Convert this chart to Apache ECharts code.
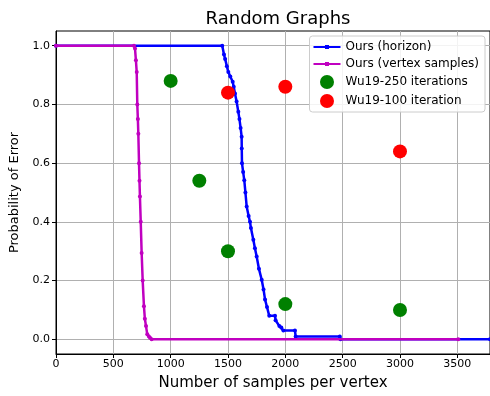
<!DOCTYPE html>
<html>
<head>
<meta charset="utf-8">
<script src="https://cdn.jsdelivr.net/npm/echarts@6/dist/echarts.min.js"></script>
<style>
  html, body { margin: 0; padding: 0; background: #fff; }
  #chart { width: 490px; height: 396px; }
</style>
</head>
<body>
<div id="chart"></div>
<script>
// x = samples per vertex, y = probability of error
const horizonCurve = [
  [0, 1], [1450, 1], [1465, 0.97], [1475, 0.955], [1490, 0.93], [1503, 0.91],
  [1520, 0.895], [1541, 0.877], [1550, 0.86], [1561, 0.837], [1575, 0.81],
  [1590, 0.775], [1600, 0.75], [1610, 0.72], [1619, 0.69], [1620, 0.65],
  [1622, 0.6], [1632, 0.57], [1642, 0.542], [1652, 0.5], [1663, 0.452],
  [1680, 0.42], [1692, 0.4], [1700, 0.379], [1721, 0.339], [1735, 0.31],
  [1750, 0.282], [1770, 0.24], [1794, 0.203], [1810, 0.17], [1823, 0.136],
  [1840, 0.11], [1860, 0.08], [1910, 0.08], [1915, 0.065], [1948, 0.045],
  [1965, 0.04], [1983, 0.03], [2084, 0.03], [2090, 0.01], [2475, 0.01],
  [2480, 0], [3785, 0]
]
const vertexCurve = [
  [0, 1], [680, 1], [689, 0.99], [697, 0.95], [704, 0.91], [709, 0.8],
  [714, 0.75], [718, 0.7], [724, 0.6], [728, 0.54], [732, 0.486], [739, 0.4],
  [747, 0.294], [756, 0.2], [767, 0.113], [775, 0.07], [785, 0.045],
  [796, 0.017], [810, 0.01], [820, 0.005], [834, 0], [3508, 0]
]
const wu250 = [[1000, 0.88], [1250, 0.54], [1500, 0.3], [2000, 0.12], [3000, 0.1]]
const wu100 = [[1500, 0.84], [2000, 0.86], [3000, 0.64]]

const yTicks = [0, 0.2, 0.4, 0.6, 0.8, 1.0]

const font = "DejaVu Sans"
// line with a small dot, like the matplotlib legend handle
const lineIcon = "path://M0,1 L27,1 L27,3 L0,3 Z M11.5,0 L15.5,0 L15.5,4 L11.5,4 Z"

const chart = echarts.init(document.getElementById("chart"))

chart.setOption({
  animation: false,
  textStyle: { fontFamily: font },
  title: {
    text: "Random Graphs",
    left: 273,
    textAlign: "center",
    top: 5,
    textStyle: { fontFamily: font, fontSize: 18, fontWeight: "normal", color: "#000" },
  },
  grid: { left: 56, right: 0, top: 31, bottom: 41, show: true, borderColor: "#000", borderWidth: 1 },
  legend: {
    orient: "vertical",
    right: 5,
    top: 36,
    itemGap: 5,
    itemWidth: 27,
    itemHeight: 14,
    padding: [5, 6, 4, 4],
    backgroundColor: "rgba(255,255,255,0.85)",
    borderColor: "#ccc",
    borderWidth: 1,
    borderRadius: 3,
    textStyle: { fontFamily: font, fontSize: 12, color: "#000" },
    data: [
      { name: "Ours (horizon)", icon: lineIcon },
      { name: "Ours (vertex samples)", icon: lineIcon },
      { name: "Wu19-250 iterations", icon: "circle" },
      { name: "Wu19-100 iteration", icon: "circle" },
    ],
  },
  xAxis: {
    type: "value",
    min: 0,
    max: 3785,
    interval: 500,
    name: "Number of samples per vertex",
    nameLocation: "middle",
    nameGap: 22,
    nameTextStyle: { fontFamily: font, fontSize: 15, color: "#000" },
    axisLine: { onZero: false, lineStyle: { color: "#000", width: 1 } },
    axisTick: { show: true, length: 4, lineStyle: { color: "#000" } },
    axisLabel: { showMaxLabel: false, color: "#000", fontSize: 11, margin: 5, formatter: (v) => String(v) },
    splitLine: { show: true, lineStyle: { color: "#b0b0b0", width: 1 } },
  },
  yAxis: {
    type: "value",
    min: -0.05,
    max: 1.05,
    name: "Probability of Error",
    nameLocation: "middle",
    nameGap: 33,
    nameTextStyle: { fontFamily: font, fontSize: 13, color: "#000" },
    axisLine: { lineStyle: { color: "#000", width: 1 } },
    axisTick: { show: true, length: 4, customValues: yTicks, lineStyle: { color: "#000" } },
    axisLabel: {
      customValues: yTicks,
      color: "#000",
      fontSize: 11,
      margin: 6,
      formatter: (v) => v.toFixed(1),
    },
    splitLine: { show: true, lineStyle: { color: "#b0b0b0", width: 1 } },
  },
  series: [
    {
      name: "Ours (horizon)",
      type: "line",
      data: horizonCurve,
      color: "#0000ff",
      symbol: "circle",
      symbolSize: 4,
      showSymbol: true,
      lineStyle: { width: 2.5, color: "#0000ff" },
      itemStyle: { color: "#0000ff" },
      z: 2,
    },
    {
      name: "Ours (vertex samples)",
      type: "line",
      data: vertexCurve,
      color: "#c000c0",
      symbol: "circle",
      symbolSize: 4,
      showSymbol: true,
      lineStyle: { width: 2.5, color: "#c000c0" },
      itemStyle: { color: "#c000c0" },
      z: 3,
    },
    {
      name: "Wu19-250 iterations",
      type: "scatter",
      data: wu250,
      symbolSize: 14,
      itemStyle: { color: "#008000", opacity: 1 },
      z: 4,
    },
    {
      name: "Wu19-100 iteration",
      type: "scatter",
      data: wu100,
      symbolSize: 14,
      itemStyle: { color: "#ff0000", opacity: 1 },
      z: 5,
    },
  ],
})
</script>
</body>
</html>
